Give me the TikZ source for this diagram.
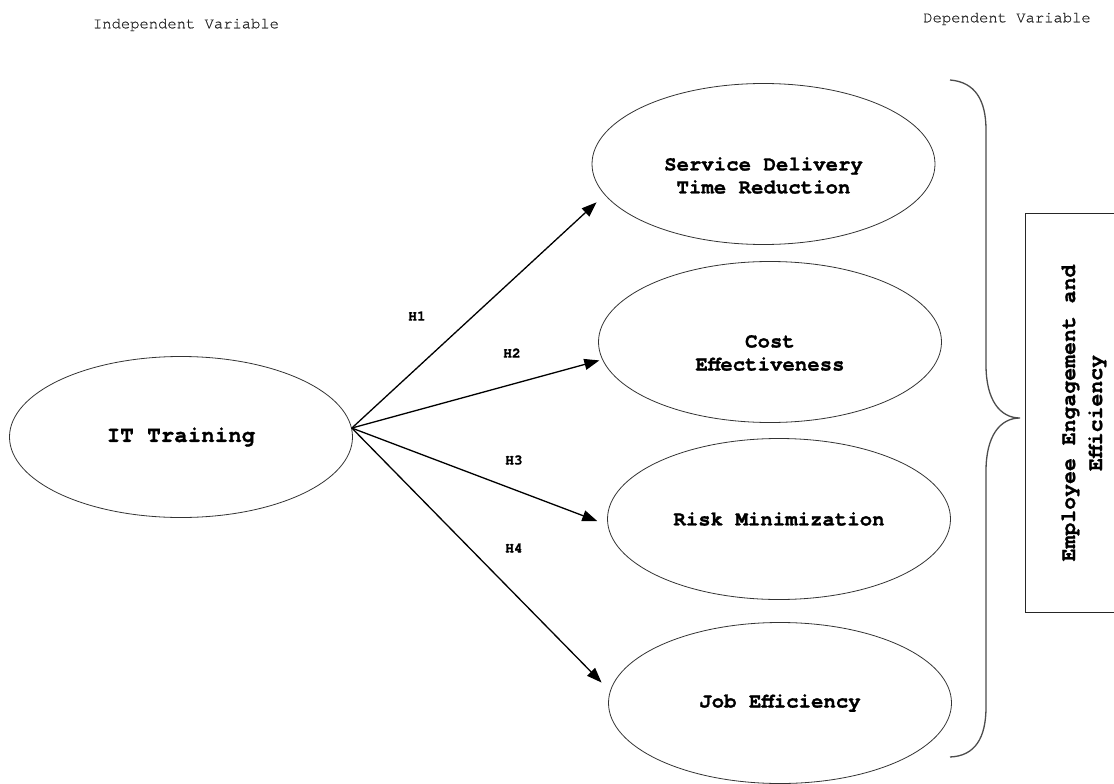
\documentclass[tikz,border=0pt]{standalone}
\usepackage{fontspec}
\setmainfont{TeX Gyre Cursor}[UprightFeatures={FakeBold=0.6}, BoldFeatures={FakeBold=1.1}]
\usetikzlibrary{arrows.meta,shapes.geometric}
\begin{document}
\begin{tikzpicture}[x=1pt,y=-1pt,
  ell/.style={draw=black!80, line width=0.8pt, ellipse, minimum width=343pt, minimum height=161pt, inner sep=0pt},
  etext/.style={font=\bfseries\fontsize{20.7}{23}\selectfont, align=center, text=black},
  htext/.style={font=\bfseries\fontsize{14.5}{16}\selectfont, text=black},
  toptext/.style={font=\fontsize{15.5}{18}\selectfont, text=black!85},
  arr/.style={line width=1.3pt, -{Triangle[length=15pt,width=11pt]}},
  brace/.style={draw=black!70, line width=1.3pt},
  boxline/.style={draw=black!85, line width=0.9pt}
]
\useasboundingbox (0,0) rectangle (1114,784);

% top labels
\node[toptext] (indep) at (186,25) {Independent Variable};
\node[toptext] (dep) at (1007,19) {Dependent Variable};

% ellipses
\node[ell, label={[etext, font=\bfseries\fontsize{22.5}{25}\selectfont]center:IT Training}] (it) at (181,437) {};
\node[ell, label={[etext, yshift=-11.5pt]center:{Service Delivery\\Time Reduction}}] (e1) at (763.5,164) {};
\node[ell, label={[etext, yshift=-11pt]center:{Cost\\Effectiveness}}] (e2) at (770,342) {};
\node[ell, label={[etext]center:Risk Minimization}] (e3) at (779,519) {};
\node[ell, label={[etext]center:Job Efficiency}] (e4) at (780,703) {};

% arrows
\draw[arr, shorten >=11pt] (it.3) -- (e1.191);
\draw[arr, shorten >=3pt] (it.3) -- (e2.186);
\draw[arr, shorten >=11pt] (it.3) -- (e3.182);
\draw[arr, shorten >=12pt] (it.3) -- (e4.176);

% hypothesis labels
\node[htext] (h1) at (417,316) {H1};
\node[htext] (h2) at (512,353) {H2};
\node[htext] (h3) at (514,460) {H3};
\node[htext] (h4) at (514,548) {H4};

% brace
\coordinate (btop) at (950,80);
\coordinate (btip) at (1020,418);
\coordinate (bbot) at (950,757);
\draw[brace] (btop) .. controls (975,82) and (986,100) .. (986,130) -- (986,365)
  .. controls (986,400) and (1000,418) .. (btip)
  .. controls (1000,418) and (986,436) .. (986,471) -- (986,707)
  .. controls (986,738) and (975,756) .. (bbot);

% box
\coordinate (boxtr) at (1114,213);
\coordinate (boxtl) at (1025,213);
\coordinate (boxbl) at (1025,612);
\coordinate (boxbr) at (1114,612);
\draw[boxline] (boxtr) -- (boxtl) -- (boxbl) -- (boxbr);
\node[etext, font=\bfseries\fontsize{21.5}{27}\selectfont, rotate=90] (outcome) at (1084,413) {Employee Engagement and\\Efficiency};
\end{tikzpicture}
\end{document}
